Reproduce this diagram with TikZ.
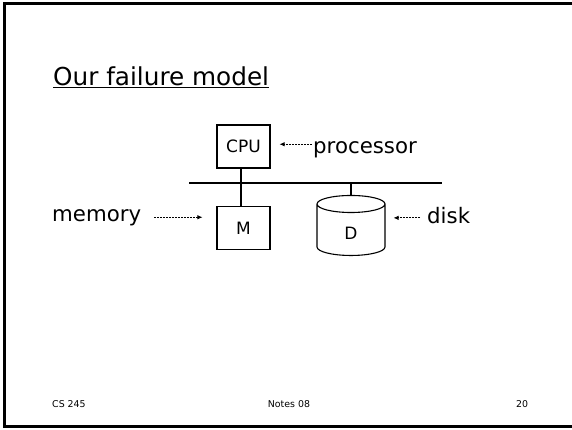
\documentclass[tikz,border=0pt]{standalone}
\usepackage{fontspec}
\setmainfont{DejaVu Sans}
\usetikzlibrary{arrows.meta,positioning,shapes.geometric}
\tikzset{
  unit/.style={draw, line width=1.1pt, inner sep=0pt, minimum width=53pt, minimum height=43pt,
    font=\fontsize{17}{20}\selectfont},
  disk/.style={draw, line width=1.1pt, cylinder, shape border rotate=90, aspect=1.3,
    minimum width=68pt, minimum height=60pt, inner sep=0pt, text height=18.4pt, text depth=0pt,
    font=\fontsize{17}{20}\selectfont},
  wire/.style={line width=1.3pt},
  lbl/.style={inner sep=0pt, font=\fontsize{21.3}{25}\selectfont},
  foot/.style={inner sep=0pt, font=\fontsize{9.4}{11}\selectfont},
  ptr/.style={line width=0.8pt, dash pattern=on 2pt off 1pt, -{Latex[length=5pt,width=4.5pt]}},
}
\begin{document}
\begin{tikzpicture}[x=1pt,y=-1pt]
\useasboundingbox (0,0) rectangle (572,429);
% slide frame
\draw[line width=3pt] (572,3.2) -- (4.5,3.2) -- (4.5,426.5) -- (572,426.5);
\node[anchor=base west, inner sep=0pt, font=\fontsize{24.7}{29}\selectfont] (title) at (53,85)
  {\underline{Our failure model}};
% the machine
\coordinate (busl) at (189,183);
\coordinate (busr) at (442,183);
\draw[line width=1.8pt] (busl) -- (busr);
\node[unit] (cpu) at (243.5,146.5) {CPU};
\node[unit] (m) at (243.5,228) {M};
\node[disk] (d) at (351,230) {D};
\draw[wire] (cpu.south -| 241,0) -- (m.north -| 241,0);
\draw[wire] (d.top) -- (d.top |- busl);
% what each part is
\node[lbl, anchor=base west] (proc) at (313,153) {processor};
\node[lbl, anchor=base west] (mem) at (52,221) {memory};
\node[lbl, anchor=base west] (dsk) at (427,223) {disk};
\draw[ptr, shorten <=1pt, shorten >=9pt] ([yshift=5pt]proc.west) -- ([yshift=5pt]proc.west -| cpu.east);
\draw[ptr, shorten <=13pt, shorten >=14pt] (mem.east) -- (mem.east -| m.west);
\draw[ptr, shorten <=7pt, shorten >=8pt] ([yshift=-2.8pt]dsk.west) -- ([yshift=-2.8pt]dsk.west -| d.east);
% footer
\node[foot, anchor=base west] (course) at (52,407) {CS 245};
\node[foot, anchor=base] (notes) at (289,407) {Notes 08};
\node[foot, anchor=base] (page) at (522,407) {20};
\end{tikzpicture}
\end{document}
